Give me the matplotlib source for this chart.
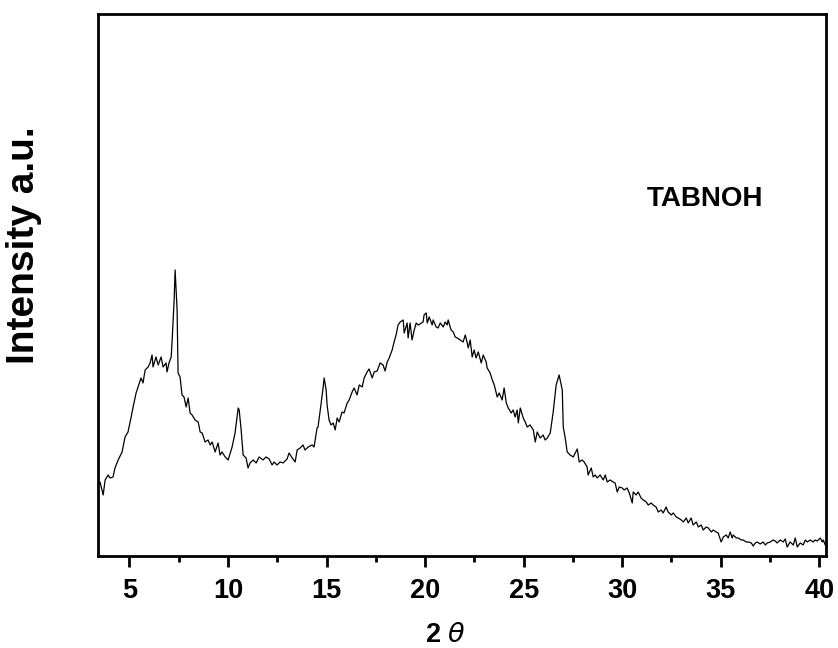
import matplotlib
matplotlib.use("Agg")
import matplotlib.pyplot as plt
from matplotlib.ticker import MultipleLocator

plt.rcParams["font.family"] = ["Liberation Sans", "DejaVu Sans"]
plt.rcParams["mathtext.fontset"] = "dejavusans"

# ---- XRD pattern (2theta in degrees, intensity in a.u.) ----
two_theta = [
    3.41, 3.51, 3.67, 3.77, 3.92, 4.02, 4.17, 4.27, 4.43, 4.63, 4.78, 4.93, 5.09, 5.19,
    5.34, 5.44, 5.59, 5.69, 5.80, 5.95, 6.05, 6.15, 6.20, 6.35, 6.46, 6.61, 6.71, 6.86,
    6.91, 7.01, 7.12, 7.17, 7.27, 7.32, 7.42, 7.47, 7.57, 7.67, 7.77, 7.88, 7.98, 8.08,
    8.18, 8.33, 8.49, 8.59, 8.69, 8.84, 8.99, 9.10, 9.20, 9.35, 9.50, 9.60, 9.70, 9.86,
    10.01, 10.21, 10.36, 10.52, 10.57, 10.67, 10.77, 10.92, 11.02, 11.12, 11.28,
    11.43, 11.58, 11.78, 11.93, 12.09, 12.24, 12.34, 12.49, 12.65, 12.80, 13.00, 13.10,
    13.26, 13.41, 13.51, 13.66, 13.81, 13.91, 14.07, 14.27, 14.37, 14.52, 14.57, 14.73,
    14.83, 14.88, 14.98, 15.03, 15.13, 15.23, 15.34, 15.44, 15.54, 15.64, 15.79, 15.89,
    16.05, 16.15, 16.30, 16.40, 16.55, 16.66, 16.81, 16.91, 17.06, 17.16, 17.32, 17.42,
    17.57, 17.72, 17.87, 17.97, 18.08, 18.18, 18.33, 18.43, 18.53, 18.63, 18.74, 18.89,
    18.94, 19.09, 19.14, 19.24, 19.34, 19.45, 19.55, 19.65, 19.75, 19.90, 19.95, 20.06,
    20.11, 20.21, 20.36, 20.41, 20.56, 20.66, 20.77, 20.92, 21.02, 21.12, 21.17, 21.32,
    21.43, 21.53, 21.63, 21.78, 21.93, 22.04, 22.14, 22.19, 22.29, 22.39, 22.49, 22.59,
    22.70, 22.85, 22.95, 23.10, 23.15, 23.30, 23.41, 23.51, 23.66, 23.76, 23.91, 24.01,
    24.12, 24.22, 24.37, 24.47, 24.57, 24.67, 24.73, 24.83, 24.98, 25.08, 25.18, 25.33,
    25.49, 25.59, 25.69, 25.84, 25.99, 26.09, 26.20, 26.35, 26.50, 26.65, 26.80, 26.96,
    27.01, 27.11, 27.21, 27.36, 27.52, 27.62, 27.72, 27.82, 27.97, 28.07, 28.22, 28.27,
    28.43, 28.53, 28.63, 28.73, 28.88, 29.04, 29.14, 29.24, 29.39, 29.54, 29.64, 29.75,
    29.85, 30.00, 30.10, 30.25, 30.36, 30.51, 30.56, 30.71, 30.81, 30.96, 31.07, 31.22,
    31.32, 31.47, 31.57, 31.72, 31.83, 31.98, 32.08, 32.23, 32.33, 32.49, 32.59, 32.74,
    32.84, 33.00, 33.10, 33.25, 33.35, 33.50, 33.60, 33.76, 33.86, 34.01, 34.11, 34.26,
    34.37, 34.52, 34.62, 34.77, 34.87, 35.02, 35.13, 35.28, 35.38, 35.48, 35.58, 35.63,
    35.79, 35.89, 36.04, 36.14, 36.29, 36.39, 36.55, 36.65, 36.75, 36.85, 37.00, 37.15,
    37.26, 37.36, 37.51, 37.66, 37.76, 37.86, 38.02, 38.17, 38.27, 38.37, 38.52, 38.68,
    38.78, 38.88, 39.03, 39.18, 39.29, 39.39, 39.54, 39.69, 39.79, 39.89, 40.05, 40.15,
    40.20, 40.30,
]
intensity = [
    73, 74, 61, 76, 81, 78, 79, 88, 96, 104, 119, 124, 139, 149,
    163, 169, 178, 173, 186, 189, 193, 201, 189, 199, 191, 199, 189, 193,
    184, 193, 199, 216, 256, 286, 246, 183, 179, 161, 159, 149, 158, 143,
    141, 136, 134, 124, 123, 114, 116, 111, 114, 104, 113, 101, 104, 99,
    96, 109, 123, 148, 146, 126, 101, 98, 88, 93, 96,
    93, 99, 96, 99, 97, 91, 94, 91, 94, 93, 97, 103,
    98, 94, 106, 108, 111, 106, 109, 111, 109, 128, 129, 153,
    169, 178, 166, 151, 136, 131, 133, 126, 138, 134, 144, 143,
    153, 156, 164, 168, 161, 171, 169, 178, 184, 187, 178, 184,
    185, 193, 191, 185, 194, 198, 206, 214, 221, 231, 234, 236,
    223, 233, 218, 233, 216, 226, 233, 231, 232, 234, 241, 243,
    233, 239, 231, 236, 229, 228, 233, 229, 234, 231, 236, 226,
    224, 219, 218, 216, 214, 221, 213, 208, 216, 199, 206, 198,
    204, 193, 201, 194, 188, 183, 176, 171, 159, 163, 156, 168,
    153, 148, 143, 146, 139, 146, 133, 148, 138, 134, 129, 131,
    126, 114, 124, 118, 121, 116, 118, 123, 144, 171, 181, 166,
    129, 118, 104, 101, 99, 103, 107, 94, 96, 94, 89, 81,
    88, 79, 81, 78, 81, 76, 81, 74, 76, 74, 73, 64,
    69, 68, 66, 68, 63, 53, 64, 61, 64, 58, 56, 54,
    51, 53, 51, 49, 44, 46, 43, 49, 44, 41, 43, 39,
    38, 36, 34, 38, 33, 38, 31, 34, 29, 31, 26, 29,
    28, 24, 26, 24, 23, 14, 19, 21, 18, 24, 18, 21,
    18, 18, 16, 16, 14, 14, 13, 10, 13, 14, 12, 14,
    11, 13, 14, 16, 15, 13, 16, 14, 17, 9, 14, 11,
    18, 9, 13, 11, 16, 14, 16, 14, 16, 15, 18, 14,
    16, 11,
]

sample_name = "TABNOH"
x_ticks = [5, 10, 15, 20, 25, 30, 35, 40]

fig = plt.figure(figsize=(8.38, 6.48), dpi=100)
ax = fig.add_axes([0.117, 0.142, 0.8687, 0.8365])

ax.plot(two_theta, intensity, color="black", linewidth=0.9)

ax.set_xlim(3.41, 40.34)
ax.set_ylim(0, 542)
ax.set_xticks(x_ticks)
ax.xaxis.set_minor_locator(MultipleLocator(2.5))
ax.set_yticks([])

for side in ["top", "bottom", "left", "right"]:
    ax.spines[side].set_linewidth(2.0)

ax.tick_params(axis="x", which="major", direction="out", length=8, width=2,
               pad=8, labelsize=19.5)
ax.tick_params(axis="x", which="minor", direction="out", length=4, width=2)
for lbl in ax.get_xticklabels():
    lbl.set_fontweight("bold")

# sample label inside the frame
ax.text(0.834, 0.659, sample_name, transform=ax.transAxes, fontsize=20,
        fontweight="bold", ha="center", va="center")

fig.text(445 / 838, 1 - 635 / 648, r"2 $\theta$", fontsize=19.5, fontweight="bold",
         ha="center", va="center")
fig.text(24 / 838, 1 - 245 / 648, "Intensity a.u.", fontsize=28, fontweight="bold",
         rotation=90, ha="center", va="center")

fig.savefig("out.png", dpi=100)
